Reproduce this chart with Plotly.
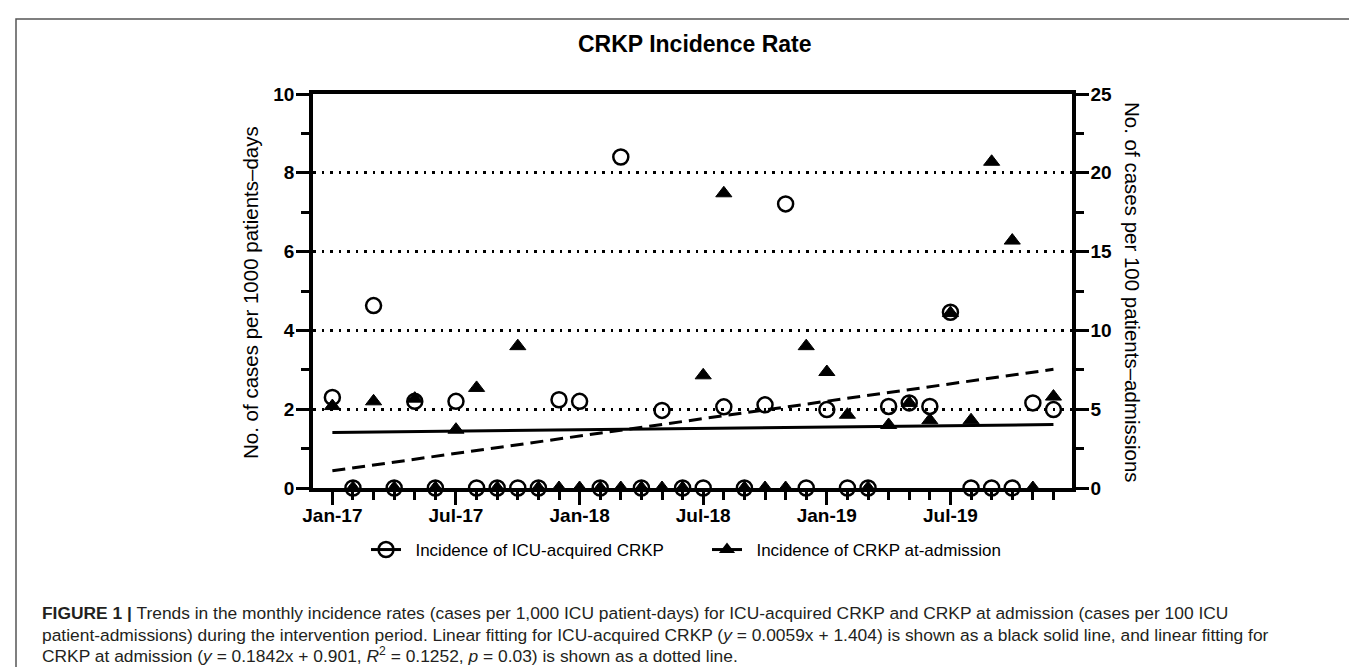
import plotly.graph_objects as go

# ---------------- data ----------------
months = ["Jan-17", "Feb-17", "Mar-17", "Apr-17", "May-17", "Jun-17",
          "Jul-17", "Aug-17", "Sep-17", "Oct-17", "Nov-17", "Dec-17",
          "Jan-18", "Feb-18", "Mar-18", "Apr-18", "May-18", "Jun-18",
          "Jul-18", "Aug-18", "Sep-18", "Oct-18", "Nov-18", "Dec-18",
          "Jan-19", "Feb-19", "Mar-19", "Apr-19", "May-19", "Jun-19",
          "Jul-19", "Aug-19", "Sep-19", "Oct-19", "Nov-19", "Dec-19"]
month_idx = list(range(len(months)))

# ICU-acquired CRKP (cases per 1000 patient-days, left axis)
icu_acquired = [2.30, 0, 4.63, 0, 2.20, 0, 2.20, 0, 0, 0, 0, 2.24,
                2.20, 0, 8.40, 0, 1.97, 0, 0, 2.06, 0, 2.11, 7.21, 0,
                1.99, 0, 0, 2.07, 2.16, 2.07, 4.46, 0, 0, 0, 2.16, 1.99]

# CRKP at admission (cases per 100 patient-admissions, right axis)
at_admission = [5.2, 0, 5.5, 0, 5.67, 0, 3.7, 6.35, 0, 9.0, 0, 0,
                0, 0, 0, 0, 0, 0, 7.15, 18.7, 0, 0, 0, 9.0,
                7.36, 4.65, 0, 4.0, 5.4, 4.3, 11.1, 4.3, 20.7, 15.7, 0, 5.8]

# linear fits (values at first and last month)
fit_months = ["Jan-17", "Dec-19"]
fit_icu = [1.41, 1.61]     # left axis
fit_adm = [1.09, 7.53]     # right axis

x_tick_labels = ["Jan-17", "Jul-17", "Jan-18", "Jul-18", "Jan-19", "Jul-19"]
left_ticks = [0, 2, 4, 6, 8, 10]
right_ticks = [0, 5, 10, 15, 20, 25]

legend_names = ["Incidence of ICU-acquired CRKP", "Incidence of CRKP at-admission"]

# ---------------- layout geometry ----------------
W, H = 1357, 667
L, R, T, B = 305, 293, 86, 187
PW, PH = W - L - R, H - T - B


def px_x(px):
    return (px - L) / PW


def px_y(py):
    return (H - B - py) / PH


FONT = "Liberation Sans, Arial, Helvetica, sans-serif"
NB = "\u00a0\u00a0"

fit_x = [months.index(m) for m in fit_months]
x_tickvals = [months.index(m) for m in x_tick_labels]

fig = go.Figure()

# trend line for ICU-acquired (left axis)
fig.add_trace(go.Scatter(x=fit_x, y=fit_icu, mode="lines",
                         line=dict(color="black", width=3),
                         showlegend=False, hoverinfo="skip"))
# ICU-acquired circles
fig.add_trace(go.Scatter(x=month_idx, y=icu_acquired, mode="markers",
                         marker=dict(symbol="circle-open", size=15, color="black",
                                     line=dict(width=2.5, color="black")),
                         cliponaxis=False, showlegend=False))
# at-admission dashed fit (right axis)
fig.add_trace(go.Scatter(x=fit_x, y=fit_adm, mode="lines", yaxis="y2",
                         line=dict(color="black", width=3, dash="13px,7px"),
                         showlegend=False, hoverinfo="skip"))
# at-admission triangles
fig.add_trace(go.Scatter(x=month_idx, y=at_admission, mode="markers", yaxis="y2",
                         marker=dict(symbol="triangle-up", size=14, color="black",
                                     line=dict(width=1, color="black")),
                         cliponaxis=False, showlegend=False))

# legend entries
fig.add_trace(go.Scatter(x=[None], y=[None], mode="lines+markers", name=NB + legend_names[0],
                         line=dict(color="black", width=3),
                         marker=dict(symbol="circle-open", size=15, color="black",
                                     line=dict(width=2.5, color="black"))))
fig.add_trace(go.Scatter(x=[None], y=[None], mode="lines+markers", name=NB + legend_names[1],
                         line=dict(color="black", width=3),
                         marker=dict(symbol="triangle-up", size=14, color="black")))

tickfont = dict(family=FONT, size=19, color="black", weight="bold")

fig.update_layout(
    width=W, height=H,
    margin=dict(l=L, r=R, t=T, b=B, pad=0),
    paper_bgcolor="white", plot_bgcolor="white",
    font=dict(family=FONT, color="black"),
    showlegend=True,
    legend=dict(orientation="h", x=px_x(358), y=px_y(542), xanchor="left", yanchor="middle",
                font=dict(family=FONT, size=17, color="black"),
                bgcolor="rgba(0,0,0,0)", entrywidth=296, entrywidthmode="pixels"),
    xaxis=dict(range=[-0.94, 35.9], tickvals=x_tickvals, ticktext=x_tick_labels,
               ticks="outside", ticklen=13, tickwidth=3, tickcolor="black",
               showline=True, linewidth=3.5, linecolor="black", mirror=True,
               showgrid=False, zeroline=False, tickfont=tickfont, ticklabelstandoff=-6,
               minor=dict(tickvals=month_idx, ticks="outside", ticklen=8,
                          tickwidth=3, tickcolor="black", showgrid=False)),
    yaxis=dict(range=[0, 10], tickvals=left_ticks, ticks="outside", ticklen=13,
               tickwidth=3, tickcolor="black", showline=True, linewidth=3.5,
               linecolor="black", showgrid=True, gridcolor="black", gridwidth=2.5,
               griddash="2.5px,6px", zeroline=False, tickfont=tickfont,
               ticklabelstandoff=-2,
               minor=dict(dtick=1, tick0=0, ticks="outside", ticklen=8,
                          tickwidth=3, tickcolor="black", showgrid=False)),
    yaxis2=dict(range=[0, 25], overlaying="y", side="right", tickvals=right_ticks,
                ticks="outside", ticklen=13, tickwidth=3, tickcolor="black",
                showline=True, linewidth=3.5, linecolor="black", showgrid=False,
                zeroline=False, tickfont=tickfont, ticklabelstandoff=-2,
                minor=dict(dtick=2.5, tick0=0, ticks="outside", ticklen=8,
                           tickwidth=3, tickcolor="black", showgrid=False)),
)

annotations = [
    dict(text="<b>CRKP Incidence Rate</b>", x=px_x(686), y=px_y(36),
         font=dict(size=23, family=FONT, color="black")),
    dict(text="No. of cases per 1000 patients\u2013days", x=px_x(242), y=px_y(285),
         textangle=-90, font=dict(size=20.5, family=FONT, color="black")),
    dict(text="No. of cases per 100 patients\u2013admissions", x=px_x(1125), y=px_y(284),
         textangle=90, font=dict(size=20.5, family=FONT, color="black")),
]
caption_lines = [
    "<b>FIGURE 1</b> <b>|</b> Trends in the monthly incidence rates (cases per 1,000 ICU patient-days) "
    "for ICU-acquired CRKP and CRKP at admission (cases per 100 ICU",
    "patient-admissions) during the intervention period. Linear fitting for ICU-acquired CRKP "
    "(<i>y</i> = 0.0059x + 1.404) is shown as a black solid line, and linear fitting for",
    "CRKP at admission (<i>y</i> = 0.1842x + 0.901, <i>R</i><sup>2</sup> = 0.1252, "
    "<i>p</i> = 0.03) is shown as a dotted line.",
]
caption_y = [605, 627, 647]
for line, cy in zip(caption_lines, caption_y):
    annotations.append(dict(text=line, x=px_x(32), y=px_y(cy), xanchor="left",
                            font=dict(size=17.4, family=FONT, color="#231f20")))

for a in annotations:
    a.setdefault("xanchor", "center")
    a.update(xref="paper", yref="paper", showarrow=False, yanchor="middle")
fig.update_layout(annotations=annotations)

# outer frame of the figure panel
fig.add_shape(type="rect", xref="paper", yref="paper",
              x0=px_x(8), x1=px_x(1353), y0=px_y(700), y1=px_y(11),
              line=dict(color="#555555", width=1.5), fillcolor="rgba(0,0,0,0)", layer="below")

fig.write_html("out.html")
